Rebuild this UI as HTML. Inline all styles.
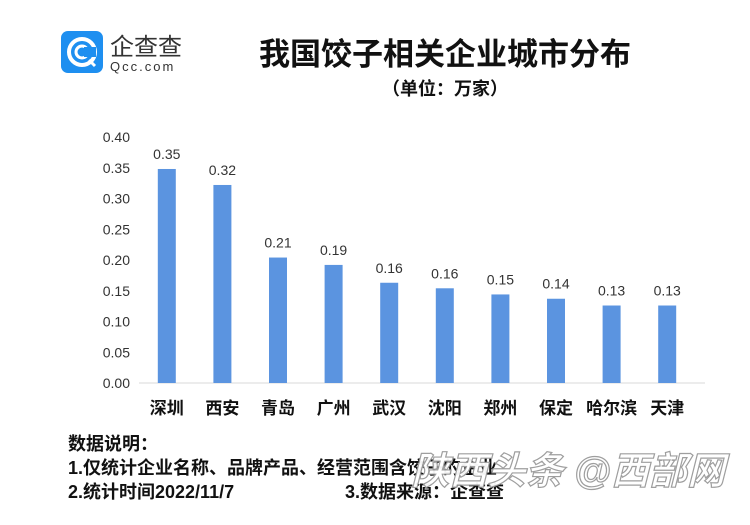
<!DOCTYPE html>
<html><head><meta charset="utf-8"><style>
body{margin:0;background:#fff;}
svg text{font-family:"Liberation Sans","Noto Sans CJK SC",sans-serif;}
</style></head><body>
<svg width="750" height="520" viewBox="0 0 750 520" xmlns="http://www.w3.org/2000/svg">
<g>
<rect x="61" y="31" width="42" height="42" rx="7" fill="#1e8ff0"/>
<circle cx="82" cy="52" r="13" fill="none" stroke="#fff" stroke-width="4"/>
<circle cx="82" cy="52" r="6" fill="none" stroke="#fff" stroke-width="3"/>
<rect x="84" y="47" width="12" height="10" fill="#1e8ff0"/>
<line x1="89" y1="60" x2="95" y2="66" stroke="#fff" stroke-width="3"/>
<text x="110" y="55" font-size="24" fill="#333">企查查</text>
<text x="110" y="71" font-size="13" fill="#333" letter-spacing="2">Qcc.com</text>
</g>
<text x="445" y="65" font-size="31" font-weight="bold" text-anchor="middle" fill="#111">我国饺子相关企业城市分布</text>
<text x="445" y="95" font-size="18" font-weight="bold" text-anchor="middle" fill="#111">（单位：万家）</text>
<g id="plot"></g>
<g font-size="18" font-weight="bold" fill="#111">
<text x="68" y="450">数据说明：</text>
<text x="68" y="474">1.仅统计企业名称、品牌产品、经营范围含饺子的企业</text>
<text x="68" y="498">2.统计时间2022/11/7</text>
<text x="345" y="498">3.数据来源：企查查</text>
</g>
<text x="725" y="484" font-size="38" font-weight="bold" font-style="italic" text-anchor="end" fill="#fff" stroke="#999" stroke-width="1.2" opacity="0.95">陕西头条 @西部网</text>
</svg>
<script>
const categories=["深圳","西安","青岛","广州","武汉","沈阳","郑州","保定","哈尔滨","天津"];
const values=[0.348,0.322,0.204,0.192,0.163,0.154,0.144,0.137,0.126,0.126];
const valueLabels=["0.35","0.32","0.21","0.19","0.16","0.16","0.15","0.14","0.13","0.13"];
const yTicks=[0,0.05,0.10,0.15,0.20,0.25,0.30,0.35,0.40];
const NS="http://www.w3.org/2000/svg";
const g=document.getElementById('plot');
const x0=139,x1=695,yBase=383,yTop=137,yMax=0.40;
const y=v=>yBase-(v/yMax)*(yBase-yTop);
const step=(x1-x0)/categories.length;
const xc=i=>x0+step*(i+0.5);
function mk(tag,attrs,txt){const e=document.createElementNS(NS,tag);for(const k in attrs)e.setAttribute(k,attrs[k]);if(txt!=null)e.textContent=txt;g.appendChild(e);return e;}
yTicks.forEach(t=>{
 const e=mk('text',{x:130,y:y(t)+5,'font-size':14,'text-anchor':'end',fill:'#333'},t.toFixed(2));
 
 
});
const ax=mk('line',{x1:x0,y1:yBase,x2:x1+10,y2:yBase,stroke:'#d9d9d9','stroke-width':1});


categories.forEach((c,i)=>{
 const bw=18;
 const b=mk('rect',{x:xc(i)-bw/2,y:y(values[i]),width:bw,height:yBase-y(values[i]),fill:'#5b94e0'});
 
 
 const l=mk('text',{x:xc(i),y:y(values[i])-10,'font-size':14,'text-anchor':'middle',fill:'#333'},valueLabels[i]);
 
 
 const cl=mk('text',{x:xc(i),y:414,'font-size':17,'font-weight':'bold','text-anchor':'middle',fill:'#111'},c);
 
 
});
</script>
</body></html>
